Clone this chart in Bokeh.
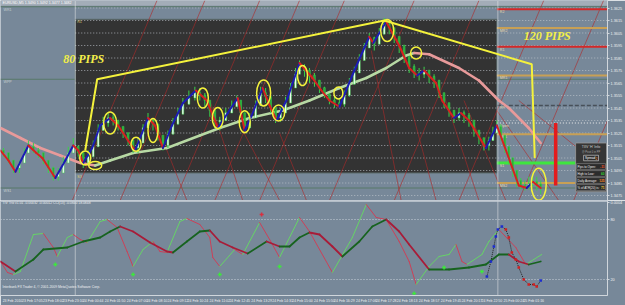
from bokeh.plotting import figure
from bokeh.layouts import column
from bokeh.models import Range1d, FixedTicker, Label, PrintfTickFormatter, Span
from bokeh.core.properties import value
from bokeh.embed import file_html
from bokeh.resources import INLINE

# ---------------- data ----------------
chart_title = "EURUSD,M5  1.3490 1.3492 1.3477 1.3482"
ind_title = "TIV Trix v1.01  -0.00032  -0.00012  CCI(13)  -0.0840  18.0848"
copyright_txt = "Interbank FX Trader 4, \u00a9 2001-2009 MetaQuotes Software Corp."

price_ticks = [1.3625, 1.3615, 1.3605, 1.3595, 1.3585, 1.3575, 1.3565, 1.3555,
               1.3545, 1.3535, 1.3525, 1.3515, 1.3505, 1.3495, 1.3485, 1.3475]
date_pos = [2, 22, 43, 63, 83, 105, 127, 147, 168, 188, 210, 230, 252, 273, 293,
            315, 335, 357, 377, 398, 420, 442, 463, 483, 505, 525]
date_labels = ["23 Feb 2010", "23 Feb 17:05", "23 Feb 18:02", "23 Feb 23:10", "24 Feb 00:44",
               "24 Feb 01:50", "24 Feb 07:00", "24 Feb 08:10", "24 Feb 09:12", "24 Feb 10:24",
               "24 Feb 11:02", "24 Feb 12:45", "24 Feb 13:29", "24 Feb 14:31", "24 Feb 15:00",
               "24 Feb 15:50", "24 Feb 16:29", "24 Feb 17:06", "24 Feb 17:28", "24 Feb 18:13",
               "24 Feb 18:57", "24 Feb 19:45", "24 Feb 20:17", "24 Feb 22:50", "25 Feb 00:24",
               "25 Feb 01:16"]

# candles (bar position, high, low, close)
cx = [3, 8, 13, 19, 24, 28, 33, 38, 43, 48, 53, 58, 63, 68, 73, 78, 83, 88, 93, 98,
      103, 108, 113, 118, 123, 128, 133, 138, 143, 148, 153, 158, 163, 168, 173, 178, 183, 189, 195, 200,
      205, 210, 215, 220, 226, 232, 237, 241, 245, 250, 256, 261, 266, 271, 276, 281, 286, 291, 296, 300,
      305, 310, 315, 320, 325, 330, 335, 340, 345, 350, 355, 360, 365, 370, 375, 380, 385, 390, 395, 400,
      405, 410, 415, 420, 425, 430, 435, 440, 445, 450, 455, 460, 465, 470, 475, 480, 485, 490, 494, 498,
      502, 506, 510, 514, 518, 522, 526, 530, 534, 538, 542]
c_high = [1.3513, 1.3509, 1.3503, 1.3503, 1.3513, 1.3519, 1.3517, 1.3513, 1.3509, 1.3503,
          1.3498, 1.3497, 1.3506, 1.3514, 1.3521, 1.3515, 1.3509, 1.3511, 1.3519, 1.3532,
          1.3538, 1.3541, 1.3540, 1.3535, 1.3530, 1.3525, 1.3519, 1.3521, 1.3532, 1.3541,
          1.3537, 1.3529, 1.3522, 1.3527, 1.3537, 1.3545, 1.3553, 1.3559, 1.3562, 1.3561,
          1.3557, 1.3549, 1.3541, 1.3538, 1.3545, 1.3551, 1.3555, 1.3551, 1.3538, 1.3541,
          1.3551, 1.3562, 1.3561, 1.3551, 1.3543, 1.3545, 1.3554, 1.3565, 1.3577, 1.3583,
          1.3580, 1.3577, 1.3573, 1.3567, 1.3562, 1.3557, 1.3554, 1.3553, 1.3559, 1.3569,
          1.3578, 1.3588, 1.3597, 1.3605, 1.3602, 1.3609, 1.3617, 1.3615, 1.3609, 1.3601,
          1.3593, 1.3585, 1.3580, 1.3577, 1.3578, 1.3575, 1.3572, 1.3567, 1.3556, 1.3549,
          1.3543, 1.3545, 1.3543, 1.3541, 1.3533, 1.3527, 1.3521, 1.3522, 1.3530, 1.3535,
          1.3532, 1.3522, 1.3513, 1.3503, 1.3495, 1.3489, 1.3487, 1.3490, 1.3492, 1.3490, 1.3487]
c_low = [1.3506, 1.3501, 1.3493, 1.3493, 1.3503, 1.3509, 1.3509, 1.3505, 1.3500, 1.3493,
         1.3487, 1.3487, 1.3495, 1.3503, 1.3511, 1.3506, 1.3497, 1.3499, 1.3509, 1.3521,
         1.3529, 1.3530, 1.3531, 1.3527, 1.3521, 1.3515, 1.3509, 1.3509, 1.3519, 1.3530,
         1.3527, 1.3519, 1.3511, 1.3513, 1.3525, 1.3533, 1.3543, 1.3548, 1.3551, 1.3551,
         1.3546, 1.3538, 1.3529, 1.3527, 1.3535, 1.3541, 1.3546, 1.3537, 1.3525, 1.3529,
         1.3540, 1.3551, 1.3549, 1.3541, 1.3533, 1.3534, 1.3543, 1.3553, 1.3564, 1.3573,
         1.3570, 1.3565, 1.3562, 1.3557, 1.3553, 1.3548, 1.3545, 1.3545, 1.3546, 1.3554,
         1.3564, 1.3575, 1.3585, 1.3594, 1.3591, 1.3597, 1.3605, 1.3604, 1.3597, 1.3589,
         1.3581, 1.3573, 1.3569, 1.3567, 1.3569, 1.3565, 1.3561, 1.3553, 1.3545, 1.3538,
         1.3533, 1.3535, 1.3533, 1.3530, 1.3522, 1.3516, 1.3511, 1.3511, 1.3519, 1.3525,
         1.3519, 1.3509, 1.3500, 1.3490, 1.3482, 1.3480, 1.3479, 1.3480, 1.3482, 1.3479, 1.3476]
c_close = [1.3509, 1.3503, 1.3497, 1.3501, 1.3509, 1.3514, 1.3511, 1.3509, 1.3503, 1.3497,
           1.3490, 1.3493, 1.3501, 1.3509, 1.3514, 1.3509, 1.3501, 1.3506, 1.3514, 1.3527,
           1.3533, 1.3537, 1.3535, 1.3530, 1.3525, 1.3519, 1.3513, 1.3517, 1.3529, 1.3535,
           1.3532, 1.3523, 1.3515, 1.3524, 1.3532, 1.3540, 1.3548, 1.3553, 1.3557, 1.3555,
           1.3551, 1.3543, 1.3534, 1.3535, 1.3541, 1.3546, 1.3551, 1.3541, 1.3529, 1.3537,
           1.3547, 1.3557, 1.3554, 1.3545, 1.3537, 1.3541, 1.3549, 1.3561, 1.3572, 1.3578,
           1.3575, 1.3571, 1.3567, 1.3561, 1.3556, 1.3551, 1.3549, 1.3548, 1.3555, 1.3564,
           1.3573, 1.3583, 1.3593, 1.3601, 1.3596, 1.3604, 1.3612, 1.3609, 1.3602, 1.3595,
           1.3586, 1.3578, 1.3573, 1.3572, 1.3575, 1.3570, 1.3567, 1.3557, 1.3549, 1.3543,
           1.3537, 1.3541, 1.3539, 1.3535, 1.3527, 1.3521, 1.3515, 1.3519, 1.3525, 1.3530,
           1.3523, 1.3514, 1.3505, 1.3495, 1.3487, 1.3483, 1.3482, 1.3484, 1.3486, 1.3484, 1.3482]
first_open = 1.3511

# zigzag swing line
zz_x = [0, 8, 15, 28, 36, 42, 55, 65, 73, 78, 83, 92, 100, 110, 118, 128, 135, 148, 155, 163,
        172, 183, 196, 207, 218, 228, 238, 245, 252, 263, 270, 277, 288, 300, 313, 322, 330, 340, 355, 370,
        374, 387, 400, 410, 418, 425, 437, 443, 455, 462, 470, 487, 498, 520, 528, 534, 542]
zz_p = [1.3511, 1.3503, 1.3494, 1.3515, 1.3509, 1.3505, 1.3489, 1.3503, 1.3515, 1.3511,
        1.3501, 1.3513, 1.3531, 1.3537, 1.3531, 1.3519, 1.3511, 1.3537, 1.3531, 1.3513,
        1.3531, 1.3549, 1.3559, 1.3551, 1.3529, 1.3541, 1.3553, 1.3527, 1.3539, 1.3561,
        1.3547, 1.3535, 1.3553, 1.3581, 1.3569, 1.3559, 1.3551, 1.3546, 1.3575, 1.3602,
        1.3597, 1.3614, 1.3595, 1.3577, 1.3571, 1.3575, 1.3565, 1.3551, 1.3537, 1.3541,
        1.3535, 1.3513, 1.3531, 1.3483, 1.3481, 1.3486, 1.3481]

# moving average
ma_x = [0, 20, 40, 60, 80, 95, 110, 133, 167, 200, 220, 250, 283, 310, 340, 367, 387, 407, 415,
        430, 460, 480, 500, 510, 530, 542]
ma_p = [1.3529, 1.3521, 1.3513, 1.3507, 1.3501, 1.3499, 1.3503, 1.3509, 1.3513, 1.3523, 1.3529,
        1.3537, 1.3543, 1.3551, 1.3561, 1.3569, 1.3577, 1.3587, 1.3589, 1.3588, 1.3577, 1.3567,
        1.3551, 1.3545, 1.3529, 1.3517]

# daily pivots (right side) and weekly pivots
piv_names = ["R2", "MR2", "R1", "MR1", "PP", "Open", "MS1", "S1", "MS2"]
piv_p = [1.3624, 1.3609, 1.3594, 1.3571, 1.3547, 1.3533, 1.3524, 1.3501, 1.3485]
wk_names = ["WR1", "WPP", "WS1"]
wk_p = [1.3626, 1.3568, 1.3481]

# session box
box_x = [75, 498]
box_p = [1.3616, 1.3493]
box_names = ["R1", "S3"]

# fan lines
fr_x0 = [72, 120, 175, 215, 260, 330, 395, 460, 520, 575]
fr_x1 = [157, 205, 260, 300, 345, 415, 480, 545, 605, 660]
fr_p0 = 1.3471
fr_p1 = 1.3631
fd_x0 = [157, 210, 243, 280, 372, 410, 445, 465, 498, 520]
fd_p0 = [1.3531, 1.3551, 1.3527, 1.3525, 1.3591, 1.3551, 1.3555, 1.3551, 1.3543, 1.3551]
fd_x1 = [187, 243, 280, 307, 402, 437, 480, 507, 560, 607]
fd_p1 = [1.3471, 1.3471, 1.3471, 1.3471, 1.3471, 1.3471, 1.3471, 1.3471, 1.3471, 1.3495]

vline_x = [75, 499]

# annotations
poly_x = [85, 97, 385, 533, 536]
poly_p = [1.3511, 1.3568, 1.3615, 1.3580, 1.3505]
el_x = [85, 95, 110, 136, 153, 203, 218, 245, 264, 279, 303, 339, 388, 417, 540]
el_p = [1.3505, 1.3499, 1.3533, 1.3516, 1.3527, 1.3553, 1.3537, 1.3534, 1.3557, 1.3541,
        1.3571, 1.3557, 1.3607, 1.3589, 1.3484]
pips_text = ["80 PIPS", "120 PIPS"]
pips_x = [63, 525]
pips_p = [1.3584, 1.3603]
range_x = 557
range_p = [1.3533, 1.3483]
last_price = 1.3482

info_title = "TIIV 'H' Info"
info_sub = "@ Pivot 0 in PP"
spread_val = "2"
info_labels = ["Pips to Open:", "High to Low:", "Daily Average:", "% of ATR(20) is:"]
info_values = ["-11", "60", "125", "71"]

# indicator
slow_x = [0, 15, 33, 43, 67, 83, 100, 110, 120, 133, 150, 167, 173, 187, 200, 210, 220, 233, 248, 267,
          280, 290, 300, 310, 320, 333, 343, 360, 373, 387, 400, 410, 430, 450, 470, 487, 500, 510, 520, 530, 542]
slow_v = [38, 28, 40, 50, 52, 58, 62, 68, 73, 68, 57, 48, 47, 58, 68, 69, 58, 52, 46, 58,
          53, 53, 62, 67, 65, 53, 43, 58, 73, 80, 68, 55, 30, 30, 32, 35, 45, 45, 38, 35, 38]
fast_x = [0, 7, 13, 20, 33, 43, 53, 57, 67, 73, 80, 87, 100, 107, 117, 127, 133, 143, 153, 160,
          167, 180, 187, 200, 210, 213, 220, 235, 243, 260, 270, 280, 300, 310, 333, 353, 367, 377, 387, 400,
          410, 417, 430, 440, 450, 457, 463, 468, 483, 490, 500, 517, 527, 543]
fast_v = [38, 27, 25, 28, 65, 66, 52, 43, 62, 65, 60, 57, 78, 80, 72, 48, 33, 50, 58, 48,
          47, 78, 81, 75, 62, 42, 33, 50, 45, 77, 60, 42, 82, 68, 27, 62, 95, 82, 80, 58,
          38, 15, 33, 43, 45, 55, 38, 35, 45, 58, 70, 52, 35, 45]
dot_x = [488, 492, 495, 497, 499, 503, 507, 510, 513, 517, 520, 525, 530, 535, 538, 542]
dot_v = [23, 38, 53, 63, 70, 73, 70, 62, 47, 40, 32, 20, 15, 15, 13, 19]
buy_x = [55, 133, 220, 280, 415, 445, 483]
buy_v = [35, 25, 25, 33, 6, 32, 28]
sell_x = [262]
sell_v = [85]
ind_levels = [80, 20]
ind_ticks = [97, 80, 20]
ind_tick_labels = ["0.0004", "80", "20"]

# ---------------- styles ----------------
BG = "#778899"
FONT = "Liberation Sans"
FV = value(FONT)
YEL = "#f4f23c"


def dir_colors(vals, up, down):
    return [up if b >= a else down for a, b in zip(vals[:-1], vals[1:])]


X0, X1 = 0, 609
P_LO, P_HI = 1.3471, 1.3631

p = figure(width=625, height=200, x_range=Range1d(X0, X1), y_range=Range1d(P_LO, P_HI),
           output_backend="svg", toolbar_location=None, x_axis_location=None,
           y_axis_location="right", min_border=0, background_fill_color=BG,
           border_fill_color=BG, outline_line_color=None)
p.grid.visible = False
ax = p.yaxis[0]
ax.ticker = FixedTicker(ticks=price_ticks)
ax.formatter = PrintfTickFormatter(format="%.4f")
ax.major_label_text_font = FONT
ax.major_label_text_font_size = "3.8px"
ax.major_label_text_color = "#eef0f2"
ax.axis_line_color = "#d0d6dc"
ax.major_tick_line_color = "#d0d6dc"
ax.major_tick_out = 2
ax.major_tick_in = 0
ax.minor_tick_line_color = None
ax.major_label_standoff = 1

# title strip
p.quad(left=[X0], right=[X1], top=[P_HI], bottom=[1.36268], fill_color="#a3adb8", line_color=None)
p.text(x=[2], y=[1.36289], text=[chart_title], text_font=FV, text_font_size="3.6px",
       text_color="#ffffff", text_baseline="middle")

# weekly pivot lines
p.segment(x0=[X0] * len(wk_p), y0=wk_p, x1=[X1] * len(wk_p), y1=wk_p,
          line_color="#587868", line_width=1)
p.text(x=[3] * len(wk_p), y=[v - 0.00008 for v in wk_p], text=wk_names, text_font=FV,
       text_font_size="3.6px", text_color="#c8d0d0", text_baseline="top")

# session box
p.quad(left=[box_x[0]], right=[box_x[1]], top=[box_p[0]], bottom=[box_p[1]],
       fill_color="#333333", line_color="#5d6d6d", line_width=1)
p.text(x=[box_x[0] + 2, box_x[0] + 2], y=[box_p[0] - 0.00008, box_p[1] - 0.00016], text=box_names,
       text_font=FV, text_font_size="3.6px", text_color="#e0d070", text_baseline="top")

# grid
n = len(price_ticks)
p.segment(x0=[box_x[0]] * n, y0=price_ticks, x1=[X1] * n, y1=price_ticks,
          line_color="#c4cad0", line_dash="1 2", line_width=1, line_alpha=0.75)

# fan lines
p.segment(x0=fr_x0, y0=[fr_p0] * len(fr_x0), x1=fr_x1, y1=[fr_p1] * len(fr_x1),
          line_color="#b02828", line_width=0.8, line_alpha=0.75)
p.segment(x0=fd_x0, y0=fd_p0, x1=fd_x1, y1=fd_p1,
          line_color="#b02828", line_width=0.8, line_alpha=0.75)

# daily pivot lines
piv_col = ["#d42828", "#c8a055", "#d42828", "#c8a055", "#48505a", "#eeeeee", "#c8a055", "#3ee63e", "#c8a055"]
piv_w = [2, 2, 2, 2, 1.5, 1, 2, 3, 2]
piv_dash = ["solid", "solid", "solid", "solid", "4 2", "1 2", "solid", "solid", "solid"]
for pv, c, w, d in zip(piv_p, piv_col, piv_w, piv_dash):
    p.segment(x0=[box_x[1]], y0=[pv], x1=[X1], y1=[pv], line_color=c, line_width=w, line_dash=d)
p.text(x=[box_x[1] + 3] * len(piv_p), y=[v - 0.00006 for v in piv_p], text=piv_names, text_font=FV,
       text_font_size="3.6px", text_color="#e8dcae", text_baseline="top")

# vertical separators
p.segment(x0=vline_x, y0=[P_LO] * 2, x1=vline_x, y1=[P_HI] * 2,
          line_color="#eeeeee", line_dash="1 1", line_width=1)

# moving average
p.segment(x0=ma_x[:-1], y0=ma_p[:-1], x1=ma_x[1:], y1=ma_p[1:],
          line_color=dir_colors(ma_p, "#b7d9a4", "#e89a9a"), line_width=2.6, line_cap="round")

# candles
m = min(len(cx), len(c_high), len(c_low), len(c_close))
opens = [first_open] + c_close[:m - 1]
tops = [max(o, c) for o, c in zip(opens, c_close[:m])]
bots = [min(o, c) for o, c in zip(opens, c_close[:m])]
bcol = ["#ffffff" if c >= o else "#27a83a" for o, c in zip(opens, c_close[:m])]
p.segment(x0=cx[:m], y0=c_low[:m], x1=cx[:m], y1=c_high[:m], line_color="#3ad24a", line_width=1)
p.vbar(x=cx[:m], width=1.8, top=[t + 0.00003 for t in tops], bottom=bots, fill_color=bcol,
       line_color="#3ad24a", line_width=0.5)

# zigzag
p.segment(x0=zz_x[:-1], y0=zz_p[:-1], x1=zz_x[1:], y1=zz_p[1:],
          line_color=dir_colors(zz_p, "#1c1cb4", "#d82020"), line_width=2, line_cap="round")

# yellow annotations
p.line(poly_x, poly_p, line_color=YEL, line_width=2)
el_w = [11, 13, 13, 10, 10, 11, 11, 11, 14, 12, 10, 9, 13, 11, 15]
el_h = [14, 8, 22, 14, 24, 20, 21, 22, 26, 16, 20, 12, 22, 12, 32]
p.ellipse(x=el_x, y=el_p, width=el_w, height=el_h, width_units="screen", height_units="screen",
          fill_color=None, line_color=YEL, line_width=1.5)
p.text(x=pips_x, y=pips_p, text=pips_text, text_font=value("Liberation Serif"),
       text_font_style="bold italic", text_font_size="12px", text_color="#f2ee48",
       text_baseline="middle")

# daily range bar
p.segment(x0=[range_x], y0=[range_p[0]], x1=[range_x], y1=[range_p[1]],
          line_color="#e41c1c", line_width=3.5)

# info box
ib_l, ib_r, ib_c = 577, 608, 592.5
p.quad(left=[ib_l], right=[ib_r], top=[1.3517], bottom=[1.3478], fill_color="#363636",
       line_color="#9a9a9a", line_width=0.8)
p.text(x=[ib_c], y=[1.35135], text=[info_title], text_font=FV, text_font_size="3.6px",
       text_color="#cfcfcf", text_align="center", text_baseline="middle")
p.text(x=[ib_c], y=[1.35095], text=[info_sub], text_font=FV, text_font_size="2.6px",
       text_color="#a8a8a8", text_align="center", text_baseline="middle")
p.quad(left=[585], right=[600], top=[1.35072], bottom=[1.35028], fill_color="#2e2e2e",
       line_color="#dddddd", line_width=0.6)
p.text(x=[ib_c - 0.8], y=[1.3505], text=["Spread"], text_font=FV, text_font_size="3.2px",
       text_color="#ffffff", text_align="center", text_baseline="middle")
p.text(x=[ib_c + 5.3], y=[1.3505], text=[spread_val], text_font=FV, text_font_size="3.2px",
       text_color="#ff9a30", text_align="center", text_baseline="middle")
row_y = [1.34982, 1.34926, 1.3487, 1.34814]
val_col = ["#ff5a2a", "#34d834", "#ff8c2a", "#ffd23a"]
p.quad(left=[ib_l + 1] * 4, right=[ib_r - 1] * 4, top=[y + 0.00023 for y in row_y],
       bottom=[y - 0.00023 for y in row_y], fill_color="#2c2c2c", line_color="#8c8c8c", line_width=0.6)
p.text(x=[ib_l + 2] * 4, y=row_y, text=info_labels, text_font=FV, text_font_size="3px",
       text_color="#f0f0f0", text_baseline="middle")
p.text(x=[ib_r - 2] * 4, y=row_y, text=info_values, text_font=FV, text_font_size="3.2px",
       text_color=val_col, text_align="right", text_baseline="middle", text_font_style="bold")

p.add_layout(Label(x=X1, y=last_price, text="%.4f" % last_price, text_font_size="3.8px",
                   text_font=FONT, text_color="#000000", background_fill_color="#ffffff",
                   text_baseline="middle", x_offset=2))

# ---------------- indicator panel ----------------
q = figure(width=625, height=105, x_range=p.x_range, y_range=Range1d(4, 99),
           output_backend="svg", toolbar_location=None, y_axis_location="right",
           min_border=0, background_fill_color=BG, border_fill_color=BG, outline_line_color=None)
q.grid.visible = False
qa = q.yaxis[0]
qa.ticker = FixedTicker(ticks=ind_ticks)
qa.major_label_overrides = {t: s for t, s in zip(ind_ticks, ind_tick_labels)}
for a in (qa, q.xaxis[0]):
    a.major_label_text_font = FONT
    a.major_label_text_font_size = "3.8px"
    a.major_label_text_color = "#eef0f2"
    a.axis_line_color = "#d0d6dc"
    a.major_tick_line_color = "#d0d6dc"
    a.major_tick_out = 2
    a.major_tick_in = 0
    a.minor_tick_line_color = None
    a.major_label_standoff = 1
xa = q.xaxis[0]
tick_pos = [d + 10 for d in date_pos]
xa.ticker = FixedTicker(ticks=tick_pos)
xa.major_label_overrides = {t: s for t, s in zip(tick_pos, date_labels)}
xa.major_tick_line_color = None
xa.major_label_text_font_size = "3.5px"

q.add_layout(Span(location=98.8, dimension="width", line_color="#c8d0d8", line_width=2))
q.segment(x0=[X0] * 2, y0=ind_levels, x1=[X1] * 2, y1=ind_levels,
          line_color="#c8d0d8", line_dash="1 2", line_width=1)
q.segment(x0=vline_x, y0=[4] * 2, x1=vline_x, y1=[99] * 2,
          line_color="#eeeeee", line_dash="1 1", line_width=1)
q.text(x=[2], y=[96.5], text=[ind_title], text_font=FV, text_font_size="3.4px",
       text_color="#eef0f2", text_baseline="middle")
q.text(x=[2], y=[12.5], text=[copyright_txt], text_font=FV, text_font_size="3.4px",
       text_color="#eef0f2", text_baseline="middle")

q.segment(x0=fast_x[:-1], y0=fast_v[:-1], x1=fast_x[1:], y1=fast_v[1:],
          line_color=dir_colors(fast_v, "#66d466", "#cc4058"), line_width=1, line_cap="round")
q.segment(x0=slow_x[:-1], y0=slow_v[:-1], x1=slow_x[1:], y1=slow_v[1:],
          line_color=dir_colors(slow_v, "#17631f", "#a81c38"), line_width=1.8, line_cap="round")
q.line(dot_x, dot_v, line_color="#202020", line_dash="1 1", line_width=1)
dcol = ["#1c2cd0"] + ["#1c2cd0" if b > a else "#d02020" for a, b in zip(dot_v[:-1], dot_v[1:])]
q.scatter(dot_x, dot_v, marker="square", size=2.6, fill_color=dcol, line_color=None)
q.scatter(buy_x, buy_v, marker="cross", size=4, line_color="#3ee63e", line_width=1.5)
q.scatter(sell_x, sell_v, marker="cross", size=4, line_color="#d83040", line_width=1.5)

layout = column(p, q)
open("out.html", "w").write(file_html(layout, INLINE))
